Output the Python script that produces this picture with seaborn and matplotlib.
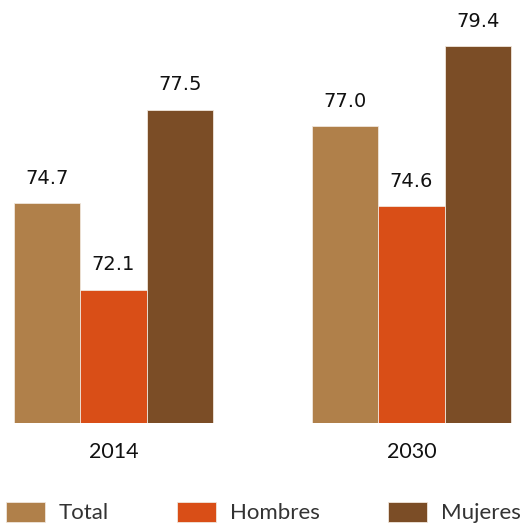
import pandas as pd
import seaborn as sns
import matplotlib.pyplot as plt

# Esperanza de vida por año y sexo
years = ['2014', '2030']
groups = ['Total', 'Hombres', 'Mujeres']
total = [74.7, 77.0]
hombres = [72.1, 74.6]
mujeres = [77.5, 79.4]
colors = ['#B0804A', '#D94E17', '#7B4D26']

df = pd.DataFrame({
    'Año': years * 3,
    'Grupo': [g for g in groups for _ in years],
    'Valor': total + hombres + mujeres,
})

sns.set_theme(style='white')
plt.rcParams['font.family'] = ['DejaVu Sans']

fig = plt.figure(figsize=(5.21, 5.25), dpi=100)
ax = fig.add_axes([0, 1 - 423 / 525, 1, 403 / 525])

sns.barplot(data=df, x='Año', y='Valor', hue='Grupo', hue_order=groups,
            palette=colors, saturation=1, width=0.668, edgecolor='#f0e6dc',
            linewidth=0.6, ax=ax)

ax.set_xlim(-113.5 / 298, (521 - 113.5) / 298)
ax.set_ylim(68.1, 68.1 + 403 / 33.33)

for cont in ax.containers:
    ax.bar_label(cont, fmt='%.1f', padding=11, fontsize=14, color='#111111')

ax.set_xlabel('')
ax.set_ylabel('')
ax.set_yticks([])
ax.tick_params(axis='x', length=0, pad=14)
for lbl in ax.get_xticklabels():
    lbl.set_fontfamily(['Lato', 'DejaVu Sans'])
    lbl.set_fontsize(15.5)
    lbl.set_color('#111111')
for s in ax.spines.values():
    s.set_visible(False)

sns.move_legend(ax, 'center left', bbox_to_anchor=(0.012, -0.222), ncol=3,
                frameon=False, title=None, handlelength=1.75,
                handleheight=1.05, handletextpad=0.6, columnspacing=3.1,
                prop={'family': ['Lato', 'DejaVu Sans'], 'size': 16},
                borderaxespad=0, borderpad=0)
for t in ax.get_legend().get_texts():
    t.set_color('#333333')

fig.savefig('out.png', dpi=100)
